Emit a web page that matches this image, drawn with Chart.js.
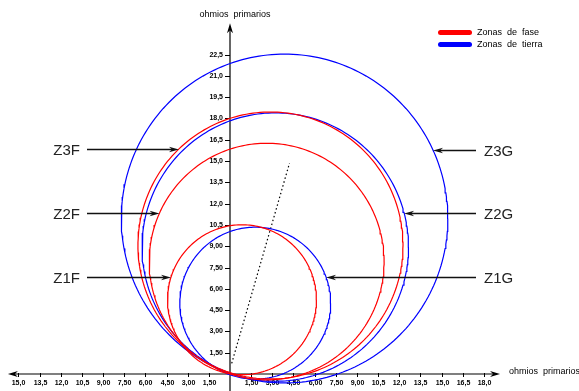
<!DOCTYPE html>
<html lang="es">
<head>
<meta charset="UTF-8">
<title>Zonas de distancia</title>
<script src="https://cdn.jsdelivr.net/npm/chart.js"></script>
<style>
  body { margin: 0; background: #fff; }
  #wrap { width: 579px; height: 391px; }
</style>
</head>
<body>
<div id="wrap"><canvas id="zonas"></canvas></div>
<script>
// zonas mho: centro y radio en ohmios primarios
const zonas   = ['Z1F', 'Z2F', 'Z3F', 'Z1G', 'Z2G', 'Z3G'];
const centroX = [0.85, 2.60, 2.87, 1.79, 3.21, 3.87];
const centroY = [5.23, 7.92, 9.05, 4.99, 8.94, 10.95];
const radio   = [5.28, 8.33, 9.40, 5.35, 9.45, 11.58];

// recta punteada (angulo de linea)
const rectaX = [0.12, 4.22];
const rectaY = [0.75, 14.85];

// ticks
const ticksX = [-15, -13.5, -12, -10.5, -9, -7.5, -6, -4.5, -3, -1.5, 1.5, 3, 4.5, 6, 7.5, 9, 10.5, 12, 13.5, 15, 16.5, 18];
const etiquetasX = ['15,0', '13,5', '12,0', '10,5', '9,00', '7,50', '6,00', '4,50', '3,00', '1,50',
                    '1,50', '3,00', '4,50', '6,00', '7,50', '9,00', '10,5', '12,0', '13,5', '15,0', '16,5', '18,0'];
const ticksY = [1.5, 3, 4.5, 6, 7.5, 9, 10.5, 12, 13.5, 15, 16.5, 18, 19.5, 21, 22.5];
const etiquetasY = ['1,50', '3,00', '4,50', '6,00', '7,50', '9,00', '10,5', '12,0', '13,5', '15,0', '16,5', '18,0', '19,5', '21,0', '22,5'];

// altura (ohmios) de cada flecha de etiqueta
const flechaY = [6.83, 11.34, 15.85, 6.83, 11.34, 15.77];

const ROJO = '#ff0000', AZUL = '#0000ff';

function circulo(cx, cy, r) {
  const pts = [];
  for (let i = 0; i <= 240; i++) {
    const a = i / 240 * 2 * Math.PI;
    pts.push({ x: cx + r * Math.cos(a), y: cy + r * Math.sin(a) });
  }
  return pts;
}

const datasets = zonas.map((z, i) => ({
  label: z,
  data: circulo(centroX[i], centroY[i], radio[i]),
  borderColor: z.endsWith('F') ? ROJO : AZUL,
  borderWidth: 1.2,
  showLine: true,
  pointRadius: 0,
  fill: false
}));
datasets.push({
  label: 'recta',
  data: rectaX.map((v, i) => ({ x: v, y: rectaY[i] })),
  borderColor: '#000',
  borderWidth: 1.2,
  borderDash: [1.5, 2.5],
  showLine: true,
  pointRadius: 0
});

// punta de flecha con muesca (estilo CAD)
function punta(ctx, x, y, ang, len, half) {
  const c = Math.cos(ang), s = Math.sin(ang);
  const p = (u, v) => [x - u * c - v * -s, y - u * s - v * c];
  ctx.beginPath();
  ctx.moveTo(x, y);
  let q = p(len, half); ctx.lineTo(q[0], q[1]);
  q = p(len * 0.7, 0); ctx.lineTo(q[0], q[1]);
  q = p(len, -half); ctx.lineTo(q[0], q[1]);
  ctx.closePath();
  ctx.fill();
}

const ejes = {
  id: 'ejes',
  beforeDatasetsDraw(chart) {
    const { ctx, scales: { x, y } } = chart;
    const x0 = x.getPixelForValue(0), y0 = y.getPixelForValue(0);
    ctx.save();
    ctx.strokeStyle = '#000';
    ctx.fillStyle = '#000';
    ctx.lineWidth = 1.2;
    const xi = x.getPixelForValue(-15.75), xf = x.getPixelForValue(19.15), yt = y.getPixelForValue(24.7);
    ctx.beginPath();
    ctx.moveTo(xi + 4, y0); ctx.lineTo(xf - 4, y0);
    ctx.moveTo(x0, chart.chartArea.bottom); ctx.lineTo(x0, yt + 4);
    ctx.stroke();
    punta(ctx, xf, y0, 0, 10, 3);
    punta(ctx, xi, y0, Math.PI, 10, 3);
    punta(ctx, x0, yt, -Math.PI / 2, 10, 3);

    ctx.lineWidth = 1;
    ctx.font = 'bold 7px "Liberation Sans"';
    ctx.textAlign = 'center';
    ctx.textBaseline = 'top';
    ticksX.forEach((v, i) => {
      const px = Math.round(x.getPixelForValue(v)) + 0.5;
      ctx.beginPath(); ctx.moveTo(px, y0 - 1); ctx.lineTo(px, y0 + 3); ctx.stroke();
      ctx.fillText(etiquetasX[i], px, y0 + 6);
    });
    ctx.textAlign = 'right';
    ctx.textBaseline = 'middle';
    ticksY.forEach((v, i) => {
      const py = Math.round(y.getPixelForValue(v)) + 0.5;
      ctx.beginPath(); ctx.moveTo(x0 - 5, py); ctx.lineTo(x0, py); ctx.stroke();
      ctx.fillText(etiquetasY[i], x0 - 7, py);
    });

    ctx.font = '9px "Liberation Sans"';
    ctx.textAlign = 'center';
    ctx.fillText('ohmios  primarios', x0 + 5, 15);
    ctx.textAlign = 'left';
    ctx.fillText('ohmios  primarios', xf + 9, y0 - 2);
    ctx.restore();
  },
  afterDatasetsDraw(chart) {
    const { ctx, scales: { x, y } } = chart;
    ctx.save();
    // leyenda
    ctx.lineCap = 'round';
    ctx.lineWidth = 5;
    [[ROJO, 'Zonas  de  fase', 32.5], [AZUL, 'Zonas  de  tierra', 44.5]].forEach(([col, txt, ly]) => {
      ctx.strokeStyle = col;
      ctx.beginPath(); ctx.moveTo(440.5, ly); ctx.lineTo(469.5, ly); ctx.stroke();
      ctx.fillStyle = '#000';
      ctx.font = '9px "Liberation Sans"';
      ctx.textAlign = 'left';
      ctx.textBaseline = 'middle';
      ctx.fillText(txt, 477, ly);
    });

    // etiquetas con flecha
    ctx.lineCap = 'butt';
    ctx.lineWidth = 1.3;
    ctx.strokeStyle = '#111';
    ctx.fillStyle = '#111';
    ctx.font = '15px "Liberation Sans"';
    ctx.textBaseline = 'middle';
    zonas.forEach((z, i) => {
      const izq = z.endsWith('F');
      const dy = flechaY[i] - centroY[i];
      const dx = Math.sqrt(radio[i] * radio[i] - dy * dy);
      const tip = x.getPixelForValue(izq ? centroX[i] - dx : centroX[i] + dx);
      const py = Math.round(y.getPixelForValue(flechaY[i])) + 0.5;
      const cola = izq ? 87 : 476;
      ctx.beginPath(); ctx.moveTo(cola, py); ctx.lineTo(izq ? tip - 6 : tip + 6, py); ctx.stroke();
      punta(ctx, tip, py, izq ? 0 : Math.PI, 10, 2.8);
      ctx.fillStyle = '#222';
      ctx.textAlign = izq ? 'right' : 'left';
      ctx.fillText(z, izq ? cola - 7 : cola + 8, py + 1);
      ctx.fillStyle = '#111';
    });
    ctx.restore();
  }
};

new Chart(document.getElementById('zonas'), {
  type: 'scatter',
  data: { datasets },
  options: {
    responsive: true,
    maintainAspectRatio: false,
    animation: false,
    layout: { padding: 0 },
    plugins: { legend: { display: false }, tooltip: { enabled: false } },
    scales: {
      x: { type: 'linear', display: false, min: -230 / 14.1, max: (579 - 230) / 14.1 },
      y: { type: 'linear', display: false, min: -(391 - 374) / 14.2, max: 374 / 14.2 }
    }
  },
  plugins: [ejes]
});
</script>
</body>
</html>
